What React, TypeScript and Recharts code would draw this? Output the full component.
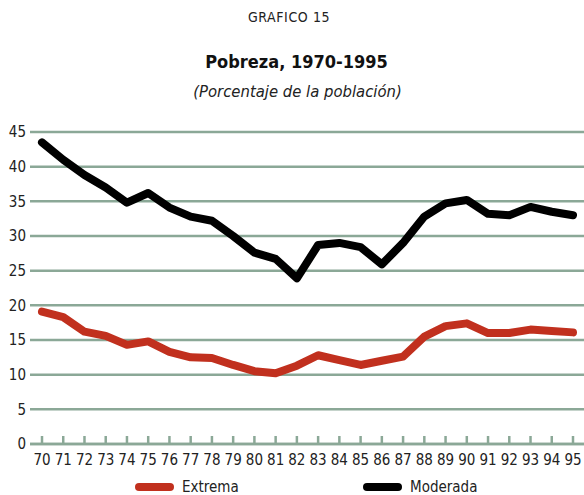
import { CartesianGrid, Line, LineChart, XAxis, YAxis } from "recharts"

const years = ["70", "71", "72", "73", "74", "75", "76", "77", "78", "79", "80", "81", "82", "83", "84", "85", "86", "87", "88", "89", "90", "91", "92", "93", "94", "95"]
const extrema = [19.1, 18.3, 16.2, 15.6, 14.3, 14.8, 13.3, 12.5, 12.4, 11.4, 10.5, 10.2, 11.3, 12.8, 12.1, 11.4, 12.0, 12.6, 15.5, 17.0, 17.4, 16.0, 16.0, 16.5, 16.3, 16.1]
const moderada = [43.5, 41.0, 38.8, 37.0, 34.8, 36.2, 34.1, 32.8, 32.2, 30.0, 27.6, 26.7, 23.9, 28.7, 29.0, 28.4, 25.9, 29.0, 32.8, 34.7, 35.2, 33.2, 33.0, 34.2, 33.5, 33.0]
const yTicks = [0, 5, 10, 15, 20, 25, 30, 35, 40, 45]

const series = [
  { key: "extrema", name: "Extrema", color: "#c1301e" },
  { key: "moderada", name: "Moderada", color: "#000000" },
]

const data = years.map((year, i) => ({ year, extrema: extrema[i], moderada: moderada[i] }))

const font = "'Liberation Sans Narrow', 'DejaVu Sans Condensed', 'Liberation Sans', sans-serif"
const gridColor = "#8ba897"

function YearTick(props: any) {
  const { x, y, payload } = props
  return (
    <g>
      <line x1={x} x2={x} y1={y - 8} y2={y} stroke={gridColor} strokeWidth={2.5} />
      <text x={x} y={y + 21} textAnchor="middle" fontSize={15} fill="#222" fontFamily={font}>
        {payload.value}
      </text>
    </g>
  )
}

export default function App() {
  return (
    <div style={{ position: "absolute", left: 0, top: 0, width: 584, height: 495, background: "#fff", fontFamily: font }}>
      <div style={{ position: "absolute", top: 9, left: 0, width: 578, textAlign: "center", fontSize: 14, color: "#222", letterSpacing: 0.6 }}>
        GRAFICO 15
      </div>
      <div style={{ position: "absolute", top: 51, left: 0, width: 593, textAlign: "center", fontSize: 18, fontWeight: "bold", color: "#111" }}>
        Pobreza, 1970-1995
      </div>
      <div style={{ position: "absolute", top: 82, left: 0, width: 595, textAlign: "center", fontSize: 16.5, fontStyle: "italic", color: "#222" }}>
        (Porcentaje de la población)
      </div>
      <LineChart width={584} height={495} data={data} margin={{ top: 132, right: 0, bottom: 0, left: 0 }}>
        <CartesianGrid vertical={false} stroke={gridColor} strokeWidth={2.5} />
        <XAxis
          dataKey="year"
          height={51}
          padding={{ left: 12, right: 11 }}
          axisLine={{ stroke: gridColor, strokeWidth: 2.5 }}
          tickLine={false}
          tickSize={0}
          tickMargin={0}
          interval={0}
          tick={<YearTick />}
        />
        <YAxis
          width={30}
          domain={[0, 45]}
          ticks={yTicks}
          axisLine={false}
          tickLine={false}
          tickSize={0}
          tickMargin={4}
          tick={{ fontSize: 15, fill: "#222", fontFamily: font }}
        />
        {series.map((s) => (
          <Line
            key={s.key}
            dataKey={s.key}
            name={s.name}
            stroke={s.color}
            strokeWidth={8}
            strokeLinecap="round"
            strokeLinejoin="round"
            dot={false}
            isAnimationActive={false}
          />
        ))}
      </LineChart>
      {series.map((s, i) => (
        <div key={s.key} style={{ position: "absolute", top: 478, left: i === 0 ? 135 : 363, display: "flex", alignItems: "center", fontSize: 15, color: "#222" }}>
          <span style={{ display: "inline-block", width: 39, height: 8, borderRadius: 4, background: s.color, marginRight: 8 }} />
          {s.name}
        </div>
      ))}
    </div>
  )
}
